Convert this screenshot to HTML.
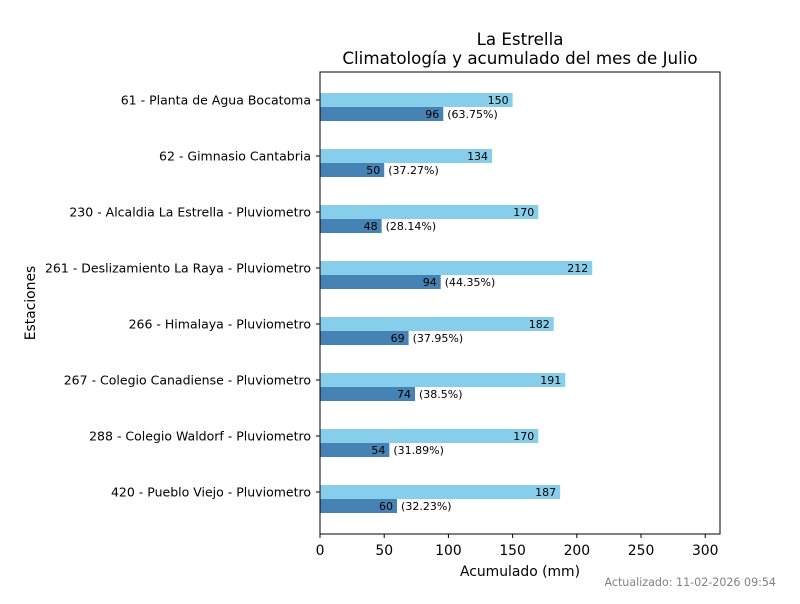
<!DOCTYPE html>
<html><head><meta charset="utf-8"><style>
body{margin:0;background:#fff;font-family:"DejaVu Sans","Liberation Sans",sans-serif}
</style></head><body>
<svg id="c" width="800" height="600" xmlns="http://www.w3.org/2000/svg" font-family="DejaVu Sans, Liberation Sans, sans-serif">
<text x="520" y="45" text-anchor="middle" font-size="16.7">La Estrella</text>
<text x="520" y="64" text-anchor="middle" font-size="16.7">Climatología y acumulado del mes de Julio</text>
<text x="520" y="576" text-anchor="middle" font-size="13.9">Acumulado (mm)</text>
<text x="35" y="303" text-anchor="middle" font-size="13.9" transform="rotate(-90 35 303)">Estaciones</text>
<text x="776" y="586" text-anchor="end" font-size="11.1" fill="#808080">Actualizado: 11-02-2026 09:54</text>
<g id="g"></g>
<rect x="320" y="72" width="400" height="462" fill="none" stroke="#000" stroke-width="1"/>
</svg>
<script>
const stations=["61 - Planta de Agua Bocatoma","62 - Gimnasio Cantabria","230 - Alcaldia La Estrella - Pluviometro","261 - Deslizamiento La Raya - Pluviometro","266 - Himalaya - Pluviometro","267 - Colegio Canadiense - Pluviometro","288 - Colegio Waldorf - Pluviometro","420 - Pueblo Viejo - Pluviometro"];
const climatologia=[150,134,170,212,182,191,170,187];
const acumulado=[96,50,48,94,69,74,54,60];
const percents=["63.75%","37.27%","28.14%","44.35%","37.95%","38.5%","31.89%","32.23%"];
const ticks=[0,50,100,150,200,250,300];
const X0=320,XW=400,XMAX=311.5,FIRST=107,STEP=56;
const xs=v=>X0+v/XMAX*XW;
const ys=i=>FIRST+i*STEP;
const g=document.getElementById('g');
const NS="http://www.w3.org/2000/svg";
function mk(t,a,txt){const e=document.createElementNS(NS,t);for(const k in a)e.setAttribute(k,a[k]);if(txt!==undefined)e.textContent=txt;g.appendChild(e);return e;}
ticks.forEach(t=>{
 const l=mk('line',{x1:xs(t),x2:xs(t),y1:534,y2:538,stroke:'#000'});
 
 
 const tx=mk('text',{x:xs(t),y:555,'text-anchor':'middle','font-size':13.9},String(t));
 
 
});
stations.forEach((s,i)=>{
 const y=ys(i);
 const tk=mk('line',{x1:316,x2:320,y1:y-7,y2:y-7,stroke:'#000'});
 
 
 const lab=mk('text',{x:311,y:y-2.5,'text-anchor':'end','font-size':12.5},s);
 
 
 const b1=mk('rect',{x:X0,y:y-14,width:xs(climatologia[i])-X0,height:14,fill:'#87ceeb'});
 
 
 const b2=mk('rect',{x:X0,y:y,width:xs(acumulado[i])-X0,height:14,fill:'#4682b4'});
 
 
 const t1=mk('text',{x:xs(climatologia[i])-4,y:y-3,'text-anchor':'end','font-size':11},String(climatologia[i]));
 
 
 const t2=mk('text',{x:xs(acumulado[i])-4,y:y+11,'text-anchor':'end','font-size':11},String(acumulado[i]));
 
 
 const t3=mk('text',{x:xs(acumulado[i])+4,y:y+11,'font-size':11},'('+percents[i]+')');
 
 
});
</script>
</body></html>
